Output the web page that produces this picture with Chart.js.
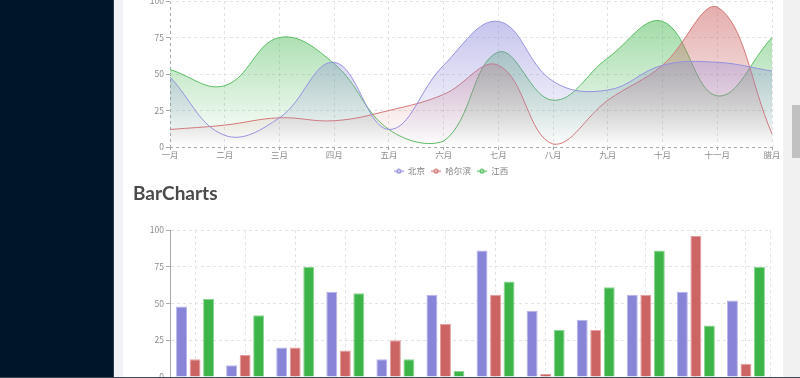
<!DOCTYPE html>
<html>
<head>
<meta charset="utf-8">
<script src="https://cdn.jsdelivr.net/npm/chart.js@4.4.0/dist/chart.umd.min.js"></script>
<style>
  html, body { margin:0; padding:0; width:800px; height:378px; overflow:hidden; background:#f0f2f5; }
  #sidebar { position:absolute; left:0; top:0; width:113px; height:378px; background:#001529; border-right:1px solid #2c3b4e; }
  #content { position:absolute; left:123px; top:0; width:660px; height:378px; background:#fff; }
  #track { position:absolute; left:785px; top:0; width:15px; height:378px; background:#f1f1f1; }
  #thumb { position:absolute; left:792px; top:105px; width:8px; height:53px; background:#c1c1c1; }
  #bottomline { position:absolute; left:0; top:377px; width:800px; height:1px; background:#3f4b5c; }
  h2 { position:absolute; left:133px; top:181px; margin:0; font:bold 19px Lato, "Open Sans", sans-serif; color:#4a4a4a; }
  .box { position:absolute; left:123px; width:660px; }
</style>
</head>
<body>
<div id="sidebar"></div>
<div id="content"></div>
<div id="track"></div>
<div id="thumb"></div>
<div class="box" style="top:-20px;height:206px;"><canvas id="lineChart"></canvas></div>
<h2>BarCharts</h2>
<div class="box" style="top:215px;height:185px;"><canvas id="barChart"></canvas></div>
<div id="bottomline"></div>
<script>
const months = ['一月','二月','三月','四月','五月','六月','七月','八月','九月','十月','十一月','腊月'];
const seriesNames = ['北京','哈尔滨','江西'];
const beijing = [48, 8, 20, 58, 12, 56, 86, 45, 39, 56, 58, 52];
const harbin  = [12, 15, 20, 18, 25, 36, 56, 2, 32, 56, 96, 9];
const jiangxi = [53, 42, 75, 57, 12, 4, 65, 32, 61, 86, 35, 75];
const yTicks = [0, 25, 50, 75, 100];

const rgb = [[136,132,216],[205,100,100],[60,180,72]];
const lineRgb = [[150,146,222],[214,120,120],[90,190,100]];
const FONT = '"Noto Sans CJK SC", "Noto Sans", sans-serif';
const TICK = '#8c8c8c';
const GRID = '#e3e3e3';
const AXIS = '#a8a8a8';

function c(a, alpha){ return 'rgba(' + a[0] + ',' + a[1] + ',' + a[2] + ',' + alpha + ')'; }

function gradient(i){
  return (ctx) => {
    const ch = ctx.chart; const area = ch.chartArea;
    if (!area) return c(rgb[i], 0.3);
    const g = ch.ctx.createLinearGradient(0, area.top, 0, area.bottom);
    g.addColorStop(0, c(rgb[i], 0.55));
    g.addColorStop(1, c(rgb[i], 0));
    return g;
  };
}

function legendIcon(col){
  const cv = document.createElement('canvas');
  cv.width = 10; cv.height = 6;
  const x = cv.getContext('2d');
  x.strokeStyle = col; x.lineWidth = 1.2;
  x.beginPath(); x.moveTo(0, 3); x.lineTo(10, 3); x.stroke();
  x.fillStyle = col; x.beginPath(); x.arc(5, 3, 2.5, 0, Math.PI*2); x.fill();
  x.fillStyle = 'rgba(255,255,255,0.7)'; x.beginPath(); x.arc(5, 3, 1.1, 0, Math.PI*2); x.fill();
  return cv;
}

const lineSets = [beijing, harbin, jiangxi].map((d, i) => ({
  label: seriesNames[i],
  data: d,
  borderColor: c(lineRgb[i], 1),
  borderWidth: 1,
  backgroundColor: gradient(i),
  fill: 'origin',
  tension: 0.4,
  pointRadius: 0,
  pointStyle: legendIcon(c(lineRgb[i], 1))
}));

new Chart(document.getElementById('lineChart'), {
  type: 'line',
  data: { labels: months, datasets: lineSets },
  options: {
    responsive: true, maintainAspectRatio: false, animation: false,
    layout: { padding: { left: 7, right: 11, top: 21, bottom: 0.5 } },
    plugins: {
      tooltip: { enabled: false },
      legend: {
        position: 'bottom',
        labels: { usePointStyle: true, pointStyleWidth: 10, boxHeight: 6, padding: 6, color: '#808080', font: { family: FONT, size: 8.5 } }
      }
    },
    scales: {
      x: {
        offset: false,
        afterFit: (s) => { s.height = 14; },
        border: { display: false, dash: [3, 3] },
        grid: { color: (ctx) => ctx.index === 0 ? AXIS : GRID, tickColor: AXIS, tickLength: 3, drawTicks: true },
        ticks: { color: TICK, font: { family: FONT, size: 8.5 }, padding: 0, maxRotation: 0, autoSkip: false }
      },
      y: {
        min: 0, max: 100,
        afterFit: (s) => { s.width = 40; },
        afterBuildTicks: (s) => { s.ticks = yTicks.map(v => ({ value: v })); },
        border: { display: false, dash: [3, 3] },
        grid: { color: (ctx) => ctx.tick && ctx.tick.value === 0 ? AXIS : GRID, tickColor: AXIS, tickLength: 4 },
        ticks: { color: TICK, font: { family: FONT, size: 8.5 }, padding: 2 }
      }
    }
  }
});

const rightEdge = {
  id: 'rightEdge',
  beforeDatasetsDraw(chart) {
    const { ctx, chartArea } = chart;
    ctx.save();
    ctx.strokeStyle = GRID; ctx.lineWidth = 1; ctx.setLineDash([3, 3]);
    ctx.beginPath(); ctx.moveTo(Math.round(chartArea.right) - 0.5, chartArea.top); ctx.lineTo(Math.round(chartArea.right) - 0.5, chartArea.bottom); ctx.stroke();
    ctx.restore();
  }
};

const barBorder = [[185,182,236],[228,160,160],[140,214,148]];
const barSets = [beijing, harbin, jiangxi].map((d, i) => ({
  label: seriesNames[i],
  data: d,
  backgroundColor: c(rgb[i], 1),
  borderColor: c(barBorder[i], 1),
  borderWidth: 1,
  barPercentage: 0.81,
  categoryPercentage: 0.81
}));

new Chart(document.getElementById('barChart'), {
  type: 'bar',
  data: { labels: months, datasets: barSets },
  plugins: [rightEdge],
  options: {
    responsive: true, maintainAspectRatio: false, animation: false,
    layout: { padding: { left: 6, right: 12, top: 15, bottom: 3 } },
    plugins: { tooltip: { enabled: false }, legend: { display: false } },
    scales: {
      x: {
        afterFit: (s) => { s.height = 20; },
        border: { display: true, color: AXIS, width: 1, dash: [3, 3] },
        grid: { offset: false, color: GRID, tickColor: AXIS, tickLength: 4 },
        ticks: { color: TICK, font: { family: FONT, size: 8.5 }, padding: 0, maxRotation: 0, autoSkip: false }
      },
      y: {
        min: 0, max: 100,
        afterFit: (s) => { s.width = 41; },
        afterBuildTicks: (s) => { s.ticks = yTicks.map(v => ({ value: v })); },
        border: { display: true, color: AXIS, width: 1, dash: [3, 3] },
        grid: { color: GRID, tickColor: AXIS, tickLength: 4 },
        ticks: { color: TICK, font: { family: FONT, size: 8.5 }, padding: 2 }
      }
    }
  }
});
</script>
</body>
</html>
